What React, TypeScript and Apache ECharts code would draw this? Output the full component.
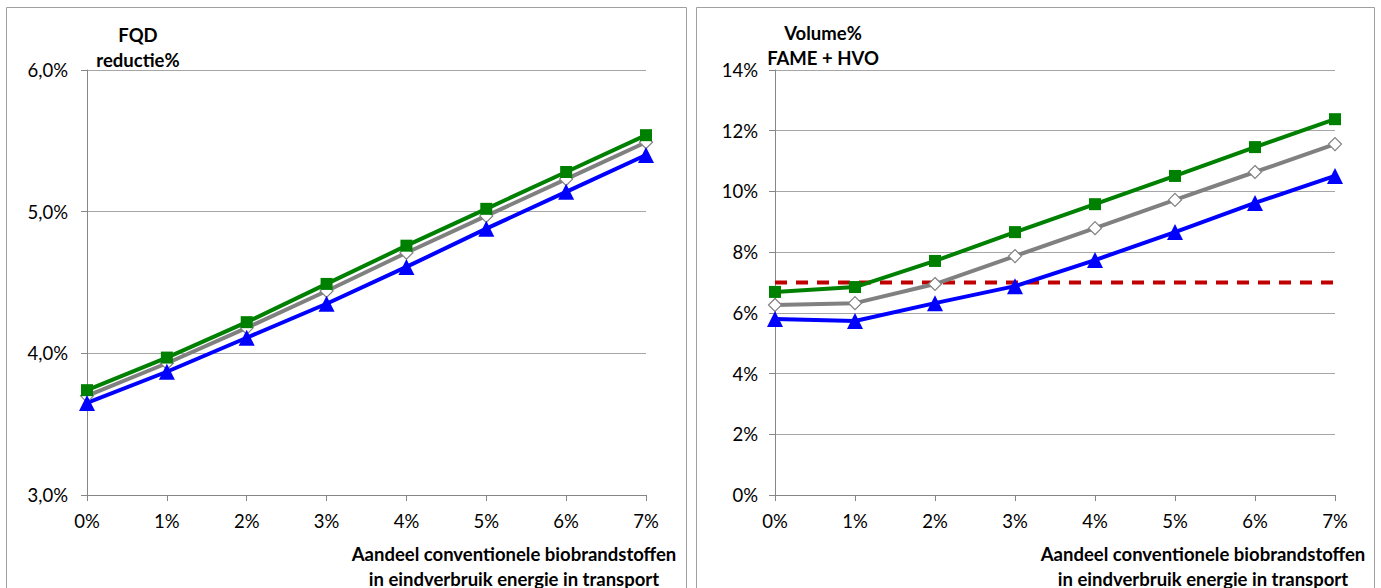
import React, { useEffect, useRef } from "react";
import * as echarts from "echarts";

const categories = ["0%", "1%", "2%", "3%", "4%", "5%", "6%", "7%"];

// Left panel: FQD reductie%
const fqdGreen = [3.74, 3.97, 4.22, 4.49, 4.76, 5.02, 5.28, 5.54];
const fqdGray = [3.70, 3.93, 4.18, 4.44, 4.71, 4.97, 5.23, 5.49];
const fqdBlue = [3.65, 3.87, 4.11, 4.35, 4.61, 4.88, 5.14, 5.40];

// Right panel: Volume% FAME + HVO
const volGreen = [6.69, 6.85, 7.71, 8.66, 9.58, 10.51, 11.46, 12.38];
const volGray = [6.26, 6.32, 6.95, 7.87, 8.79, 9.72, 10.64, 11.56];
const volBlue = [5.80, 5.73, 6.32, 6.88, 7.74, 8.66, 9.62, 10.51];
const volLimit = [7, 7, 7, 7, 7, 7, 7, 7];

const leftYTitle = "FQD\nreductie%";
const rightYTitle = "Volume%\nFAME + HVO";
const xTitle = "Aandeel conventionele biobrandstoffen\nin eindverbruik energie in transport";

const FONT = "Lato, 'Open Sans', sans-serif";
const AXIS = "#868686";
const GRID = "#a6a6a6";
const TICK_SIZE = 18.5;
const TITLE_SIZE = 18.5;

export default function App() {
  const ref = useRef<HTMLDivElement>(null);
  useEffect(() => {
    if (!ref.current) return;
    const chart = echarts.init(ref.current, null, { renderer: "svg" });
    const xAxisBase = (gridIndex: number) => ({
      type: "category",
      gridIndex,
      data: categories,
      boundaryGap: false,
      axisLine: { lineStyle: { color: AXIS, width: 1 } },
      axisTick: { show: true, alignWithLabel: true, length: 6, lineStyle: { color: AXIS } },
      axisLabel: { color: "#000", fontFamily: FONT, fontSize: TICK_SIZE, margin: 16 },
      splitLine: { show: false },
    });
    const yAxisBase = (gridIndex: number) => ({
      type: "value",
      gridIndex,
      axisLine: { show: true, lineStyle: { color: AXIS, width: 1 } },
      axisTick: { show: true, length: 6, lineStyle: { color: AXIS } },
      splitLine: { show: true, lineStyle: { color: GRID, width: 1 } },
    });
    const lineSeries = (
      xi: number,
      data: number[],
      color: string,
      symbol: string,
      size: number,
      fill: string
    ) => ({
      type: "line",
      xAxisIndex: xi,
      yAxisIndex: xi,
      data,
      symbol,
      symbolSize: size,
      showSymbol: true,
      lineStyle: { color, width: 4 },
      itemStyle: { color: fill, borderColor: color, borderWidth: fill === color ? 0 : 1.2 },
      z: 3,
    });
    const titleStyle = (text: string) => ({
      text,
      font: `bold ${TITLE_SIZE}px ${FONT}`,
      fill: "#000",
      align: "center",
      lineHeight: 25,
    });
    const option = {
      animation: false,
      backgroundColor: "#fff",
      grid: [
        { left: 87, top: 70, width: 559, height: 425 },
        { left: 775, top: 70, width: 560, height: 425 },
      ],
      xAxis: [xAxisBase(0), xAxisBase(1)],
      yAxis: [
        {
          ...yAxisBase(0),
          min: 3,
          max: 6,
          interval: 1,
          axisLabel: {
            color: "#000",
            fontFamily: FONT,
            fontSize: TICK_SIZE,
            margin: 19,
            formatter: (v: number) => v.toFixed(1).replace(".", ",") + "%",
          },
        },
        {
          ...yAxisBase(1),
          min: 0,
          max: 14,
          interval: 2,
          axisLabel: {
            color: "#000",
            fontFamily: FONT,
            fontSize: TICK_SIZE,
            margin: 17,
            formatter: (v: number) => v + "%",
          },
        },
      ],
      series: [
        lineSeries(0, fqdGray, "#808080", "diamond", 13, "#ffffff"),
        lineSeries(0, fqdGreen, "#008000", "rect", 12, "#008000"),
        lineSeries(0, fqdBlue, "#0000ff", "triangle", 16, "#0000ff"),
        {
          type: "line",
          xAxisIndex: 1,
          yAxisIndex: 1,
          data: volLimit,
          symbol: "none",
          lineStyle: { color: "#c00000", width: 4, type: [12, 9] },
          z: 2,
        },
        lineSeries(1, volGray, "#808080", "diamond", 13, "#ffffff"),
        lineSeries(1, volGreen, "#008000", "rect", 12, "#008000"),
        lineSeries(1, volBlue, "#0000ff", "triangle", 16, "#0000ff"),
      ],
      graphic: [
        {
          type: "rect",
          shape: { x: 6.5, y: 7.5, width: 680, height: 600 },
          style: { fill: "none", stroke: "#a0a0a0", lineWidth: 1 },
          silent: true,
        },
        {
          type: "rect",
          shape: { x: 696.5, y: 7.5, width: 678, height: 600 },
          style: { fill: "none", stroke: "#a0a0a0", lineWidth: 1 },
          silent: true,
        },
        { type: "text", x: 138, y: 22, style: titleStyle(leftYTitle) },
        { type: "text", x: 823, y: 20, style: titleStyle(rightYTitle) },
        { type: "text", x: 514, y: 541, style: titleStyle(xTitle) },
        { type: "text", x: 1203, y: 541, style: titleStyle(xTitle) },
      ],
    };
    chart.setOption(option as any);
    return () => chart.dispose();
  }, []);
  return (
    <div
      ref={ref}
      style={{ position: "fixed", left: 0, top: 0, width: 1381, height: 588, background: "#fff" }}
    />
  );
}
